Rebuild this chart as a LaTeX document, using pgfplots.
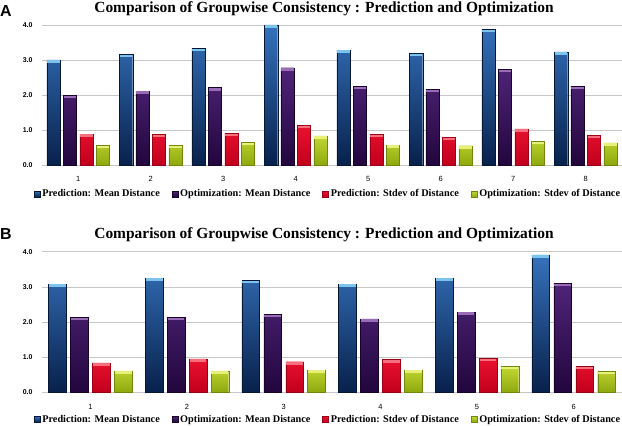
\documentclass[border=0pt]{standalone}
\usepackage{fontspec}
\setmainfont{Liberation Serif}
\newfontfamily\arialf{Liberation Sans}
\usepackage{pgfplots}
\usepackage{pgfplotstable}
\pgfplotsset{compat=1.18}

\definecolor{bluetop}{HTML}{3572BC}
\definecolor{bluebot}{HTML}{08214C}
\definecolor{bluecap}{HTML}{7CC4EE}
\definecolor{purtop}{HTML}{4F2478}
\definecolor{purbot}{HTML}{22063D}
\definecolor{purcap}{HTML}{9A6CB8}
\definecolor{redtop}{HTML}{EA1230}
\definecolor{redbot}{HTML}{C2001C}
\definecolor{redcap}{HTML}{F5707E}
\definecolor{grntop}{HTML}{C2D832}
\definecolor{grnbot}{HTML}{8EA80E}
\definecolor{grncap}{HTML}{E8F07A}

\pgfplotstableread{
x pm om ps os
1 3.00 1.99 0.88 0.56
2 3.16 2.11 0.87 0.56
3 3.33 2.21 0.90 0.65
4 4.00 2.78 1.13 0.83
5 3.28 2.25 0.87 0.57
6 3.19 2.16 0.79 0.55
7 3.87 2.73 1.03 0.67
8 3.23 2.25 0.85 0.63
}\dataA

\pgfplotstableread{
x pm om ps os
1 3.08 2.13 0.84 0.61
2 3.25 2.13 0.95 0.61
3 3.18 2.22 0.87 0.63
4 3.08 2.09 0.93 0.63
5 3.25 2.28 0.97 0.74
6 3.91 3.10 0.74 0.59
}\dataB

\pgfplotsset{
  sq legend/.style={legend image code/.code={\path[##1] (0bp,-3bp) rectangle (6bp,3bp);}},
  cap/.style={nodes near coords={},
     every node near coord/.append style={fill=#1, draw=none, inner sep=0pt, outer sep=0pt,
        minimum height=2.6bp, anchor=north, yshift=-0.3bp, text height=0pt, text depth=0pt}},
  panel/.style={
    scale only axis, width=580bp, height=140bp,
    ymin=0, ymax=4, ytick={0,1,2,3,4},
    clip=false,
    ybar, bar width=0.183,
    ymajorgrids, grid style={draw=gray!45, line width=0.7pt},
    axis line style={draw=none},
    tick style={draw=none},
    /pgf/number format/assume math mode=true,
    yticklabel={\pgfmathprintnumber[fixed,fixed zerofill,precision=1]{\tick}},
    yticklabel style={font=\arialf\bfseries\fontsize{7}{8}\selectfont, xshift=-6bp},
    xticklabel style={font=\arialf\fontsize{7.5}{9}\selectfont, yshift=-4bp},
    title style={font=\bfseries\fontsize{15.5}{17}\selectfont, at={(0.5,1)}, anchor=base, yshift=7bp, xshift=-8bp},
    legend style={draw=none, fill=none, legend columns=4, font=\bfseries\fontsize{10.3}{12}\selectfont,
      at={(0.5,0)}, anchor=center, yshift=-29bp, xshift=-4bp,
      /tikz/every even column/.append style={column sep=10bp}},
    legend cell align=left,
  },
  pmst/.style={draw=bluebot!70!black, line width=0.4pt, top color=bluetop, bottom color=bluebot, cap=bluecap, bar shift=-0.34, sq legend},
  omst/.style={draw=purbot!70!black, line width=0.4pt, top color=purtop, bottom color=purbot, cap=purcap, bar shift=-0.113, sq legend},
  psst/.style={draw=redbot!80!black, line width=0.4pt, top color=redtop, bottom color=redbot, cap=redcap, bar shift=0.113, sq legend},
  osst/.style={draw=grnbot!80!black, line width=0.4pt, top color=grntop, bottom color=grnbot, cap=grncap, bar shift=0.34, sq legend},
}

\begin{document}
\begin{tikzpicture}[x=1bp,y=1bp]
\path[use as bounding box] (0,0) rectangle (622,425);

\begin{axis}[panel, at={(42bp,260bp)}, anchor=south west,
  xmin=0.5, xmax=8.5, xtick={1,...,8},
  every node near coord/.append style={minimum width=12.4bp},
  title={Comparison of Groupwise Consistency : Prediction and Optimization}]
\addplot[pmst] table[x=x,y=pm]{\dataA};
\addplot[omst] table[x=x,y=om]{\dataA};
\addplot[psst] table[x=x,y=ps]{\dataA};
\addplot[osst] table[x=x,y=os]{\dataA};
\legend{Prediction: Mean Distance, Optimization: Mean Distance, Prediction: Stdev of Distance, Optimization: Stdev of Distance}
\end{axis}

\begin{axis}[panel, at={(42bp,32.7bp)}, anchor=south west,
  height=140.6bp,
  xmin=0.5, xmax=6.5, xtick={1,...,6},
  every node near coord/.append style={minimum width=16.8bp},
  title={Comparison of Groupwise Consistency : Prediction and Optimization},
  legend style={yshift=2bp}]
\addplot[pmst] table[x=x,y=pm]{\dataB};
\addplot[omst] table[x=x,y=om]{\dataB};
\addplot[psst] table[x=x,y=ps]{\dataB};
\addplot[osst] table[x=x,y=os]{\dataB};
\legend{Prediction: Mean Distance, Optimization: Mean Distance, Prediction: Stdev of Distance, Optimization: Stdev of Distance}
\end{axis}

\node[anchor=north west, inner sep=0pt, font=\arialf\bfseries\fontsize{16}{18}\selectfont] at (0,420) {A};
\node[anchor=north west, inner sep=0pt, font=\arialf\bfseries\fontsize{16}{18}\selectfont] at (0,197) {B};
\end{tikzpicture}
\end{document}
